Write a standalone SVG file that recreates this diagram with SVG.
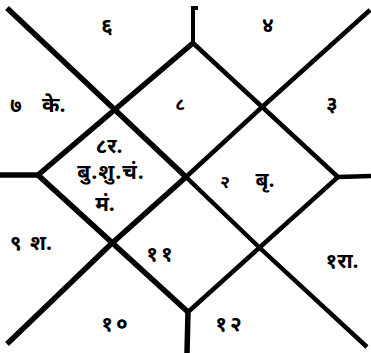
<svg xmlns="http://www.w3.org/2000/svg" width="371" height="353" viewBox="0 0 371 353">
<style>
.ln{fill:none;stroke:#000;stroke-width:5.5;stroke-linecap:butt;stroke-linejoin:miter}
.thin{stroke-width:4.5}
.t{font-family:"Noto Sans Devanagari","Noto Serif Devanagari","Lohit Devanagari","FreeSerif","Noto Sans",sans-serif;font-size:21px;font-weight:bold;fill:#000}
.s{font-size:18px}
.n{letter-spacing:3px}
</style>
<rect width="371" height="353" fill="#fff"/>
<g id="connectors">
<path class="ln" d="M7,8 L113,108 L186,177"/>
<path class="ln thin" d="M186,177 L262,250 L367,347"/>
<path class="ln thin" d="M370,10 L261,108 L186,177"/>
<path class="ln" d="M186,177 L110,245 L7,344"/>
<path class="ln" d="M193,43 L38,175 L188,312"/>
<path class="ln thin" d="M193,43 L338,177 L188,312"/>
<path class="ln" d="M0,175 L38,175"/>
<path class="ln thin" d="M338,177 L371,176"/>
<path class="ln" d="M188,312 L187,353"/>
<path class="ln" d="M193,43 L193,8 L198,8" style="stroke-width:4"/>
</g>
<g id="h6"><text class="t" x="107" y="33" text-anchor="middle">६</text></g>
<g id="h4"><text class="t" x="268" y="32" text-anchor="middle">४</text></g>
<g id="h7"><text class="t" x="10" y="112"><tspan>७</tspan><tspan x="42">के.</tspan></text></g>
<g id="h8"><text class="t s" x="180" y="110" text-anchor="middle">८</text></g>
<g id="h3"><text class="t" x="332" y="111" text-anchor="middle">३</text></g>
<g id="h1"><text class="t" x="109" y="153" text-anchor="middle">८र.</text><text class="t" x="111" y="179" text-anchor="middle" letter-spacing="1">बु.शु.चं.</text><text class="t" x="105" y="211" text-anchor="middle">मं.</text></g>
<g id="h2"><text class="t s" x="225" y="188" text-anchor="middle">२</text><text class="t" x="265" y="187" text-anchor="middle">बृ.</text></g>
<g id="h9"><text class="t" x="10" y="250"><tspan>९</tspan><tspan x="30">श.</tspan></text></g>
<g id="h11"><text class="t n" x="161" y="261" text-anchor="middle">११</text></g>
<g id="h10"><text class="t n" x="116" y="331" text-anchor="middle">१०</text></g>
<g id="h12"><text class="t n" x="230" y="331" text-anchor="middle">१२</text></g>
<g id="h5"><text class="t" x="342" y="268" text-anchor="middle">१रा.</text></g>
</svg>
